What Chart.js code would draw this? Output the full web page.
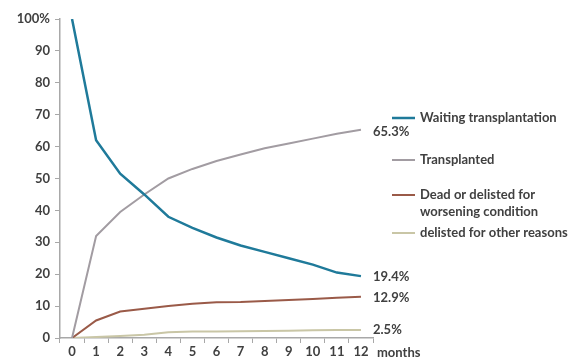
<!DOCTYPE html>
<html>
<head>
<meta charset="utf-8">
<script src="https://cdn.jsdelivr.net/npm/chart.js@4/dist/chart.umd.min.js"></script>
<style>
  html, body { margin: 0; padding: 0; background: #fff; }
  #wrap { width: 569px; height: 361px; position: relative; }
</style>
</head>
<body>
<div id="wrap"><canvas id="graficoLista"></canvas></div>
<script>
var meses = ["0", "1", "2", "3", "4", "5", "6", "7", "8", "9", "10", "11", "12"];
var esperando = [100, 62, 51.5, 45, 38, 34.5, 31.5, 29, 27, 25, 23, 20.5, 19.4];
var trasplantados = [0, 32, 39.5, 45, 50, 53, 55.5, 57.5, 59.5, 61, 62.5, 64, 65.3];
var muertos = [0, 5.5, 8.3, 9.2, 10, 10.7, 11.2, 11.3, 11.6, 11.9, 12.2, 12.6, 12.9];
var otros = [0, 0.3, 0.6, 1, 1.8, 2, 2, 2.1, 2.2, 2.3, 2.4, 2.5, 2.5];
var etiquetasFinal = ["19.4%", "65.3%", "12.9%", "2.5%"];
var nombres = ["Waiting transplantation", "Transplanted", "Dead or delisted for|worsening condition", "delisted for other reasons"];

var familia = "Lato, 'Open Sans', sans-serif";
var fuente = "bold 13px " + familia;
var gris = "#404040";

// leyenda y etiquetas al final de las lineas
var extras = {
  id: "extras",
  afterDatasetsDraw: function (chart) {
    var ctx = chart.ctx;
    var xs = chart.scales.x;
    var ys = chart.scales.y;
    var ult = meses.length - 1;
    ctx.save();
    ctx.font = fuente;
    ctx.fillStyle = gris;
    ctx.textBaseline = "middle";
    ctx.textAlign = "left";
    var offsets = [1, 2, 1, 0];
    chart.data.datasets.forEach(function (ds, i) {
      var v = ds.data[ult];
      ctx.fillText(etiquetasFinal[i], xs.getPixelForValue(ult) + 12, ys.getPixelForValue(v) + offsets[i]);
    });
    // "months" junto al ultimo tick
    ctx.fillText("months", xs.getPixelForValue(ult) + 16, 353);

    var yLey = [118, 160, 195, 233];
    chart.data.datasets.forEach(function (ds, i) {
      ctx.strokeStyle = ds.borderColor;
      ctx.lineWidth = i == 0 ? 2.5 : 2;
      ctx.beginPath();
      ctx.moveTo(392, yLey[i]);
      ctx.lineTo(415, yLey[i]);
      ctx.stroke();
      var partes = nombres[i].split("|");
      for (var k = 0; k < partes.length; k++) {
        ctx.fillText(partes[k], 420, yLey[i] + k * 17);
      }
    });
    ctx.restore();
  }
};

var dataLista = {
  labels: meses,
  datasets: [
    { label: "Waiting transplantation", data: esperando, borderColor: "#1f7a9a", borderWidth: 2.5 },
    { label: "Transplanted", data: trasplantados, borderColor: "#a29ca2", borderWidth: 2 },
    { label: "Dead or delisted for worsening condition", data: muertos, borderColor: "#9a5a48", borderWidth: 2 },
    { label: "delisted for other reasons", data: otros, borderColor: "#c9c6a6", borderWidth: 2 }
  ]
};

var configLista = {
  type: "line",
  data: dataLista,
  options: {
    responsive: true,
    maintainAspectRatio: false,
    animation: false,
    layout: { padding: { left: 0, right: 196, top: 19, bottom: 0 } },
    elements: { point: { radius: 0 }, line: { tension: 0 } },
    plugins: { legend: { display: false }, tooltip: { enabled: false } },
    scales: {
      x: {
        offset: true,
        grid: { offset: true, drawOnChartArea: false, tickLength: 5, color: "#a8a8a8" },
        border: { color: "#a8a8a8", width: 1.5 },
        ticks: { color: gris, font: { family: familia, size: 13, weight: "bold" }, maxRotation: 0, autoSkip: false, padding: 1 },
        afterFit: function (scale) { scale.height = 23; }
      },
      y: {
        min: 0,
        max: 100,
        grid: { drawOnChartArea: false, tickLength: 5, color: "#a8a8a8" },
        border: { color: "#a8a8a8", width: 1.5 },
        ticks: {
          stepSize: 10,
          color: gris,
          font: { family: familia, size: 13, weight: "bold" },
          padding: 5,
          callback: function (v) { return v == 100 ? "100%" : v; }
        },
        afterFit: function (scale) { scale.width = 60; }
      }
    }
  },
  plugins: [extras]
};

var graficoLista = new Chart(document.getElementById("graficoLista"), configLista);
</script>
</body>
</html>
